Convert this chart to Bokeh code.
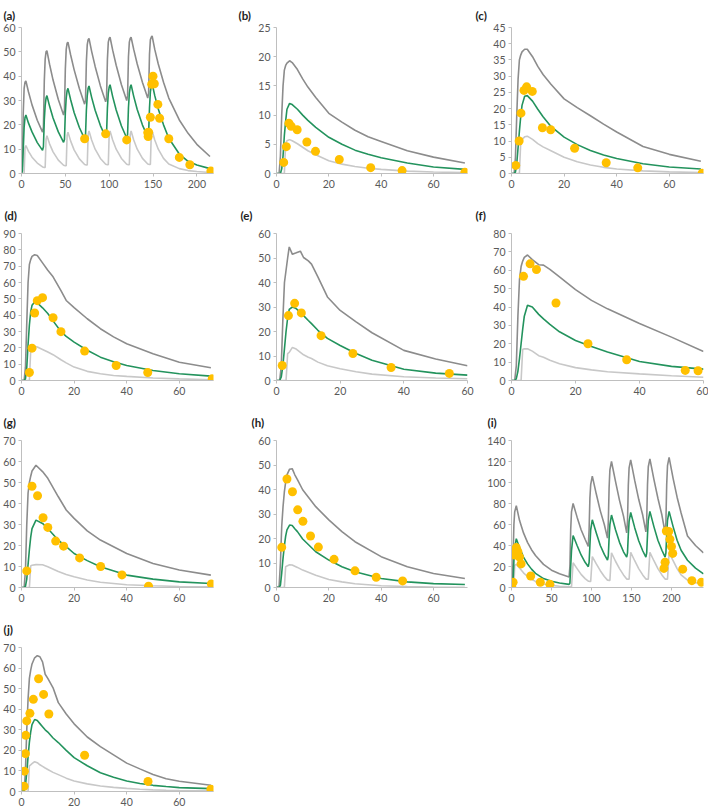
from bokeh.plotting import figure
from bokeh.layouts import column, row
from bokeh.models import Range1d, FixedTicker
from bokeh.embed import file_html
from bokeh.resources import INLINE

# ---------------- data ----------------
# (a)
t_a = [0, 1, 2, 3, 4, 5, 8, 12, 18,
       24, 25, 26, 27, 28, 29, 32, 36, 42,
       48, 49, 50, 51, 52, 53, 56, 60, 66,
       72, 73, 74, 75, 76, 77, 80, 84, 90,
       96, 97, 98, 99, 100, 101, 104, 108, 114,
       120, 121, 122, 123, 124, 125, 128, 132, 138,
       144, 145, 146, 147, 148, 149, 152, 156, 162,
       168, 180, 190, 200, 215]
up_a = [0, 3, 25, 35, 37.5, 38, 33.5, 28.2, 21.9,
        17, 19, 38, 47, 50, 50.5, 44.9, 38.4, 30.4,
        24, 26, 43, 51, 53.5, 54, 48.8, 42.7, 34.9,
        28.5, 30, 46, 53, 55, 55.5, 50.2, 44.0, 36.0,
        29.5, 31, 47, 54, 55.5, 56, 50.7, 44.5, 36.5,
        30, 32, 48, 54, 55.5, 56, 51.0, 45.0, 37.4,
        31, 33, 49, 55, 56, 56.5, 51.0, 45.0, 37.5,
        31, 22, 16.5, 12, 7]
med_a = [0, 1, 10, 19, 23, 24, 20.7, 17.1, 12.7,
         9.5, 11, 22, 28, 31, 32, 27.7, 22.8, 17.1,
         12.8, 14, 25, 31, 34, 35, 30.4, 25.1, 18.9,
         14.2, 15.5, 26, 32, 35, 36, 31.3, 26.0, 19.7,
         14.9, 16, 27, 33, 35.5, 36.5, 31.6, 26.1, 19.5,
         14.6, 16, 27, 33, 35.5, 36.5, 31.7, 26.3, 19.9,
         15, 16.5, 27, 33.5, 36, 37, 32, 26.5, 20,
         14.5, 8, 5, 3.5, 2]
lo_a = [0, 0, 0, 0, 10.5, 11.5, 9.1, 6.7, 4.3,
        2.7, 2.6, 2.5, 2.5, 14, 15.5, 12.2, 8.9, 5.5,
        3.4, 3.3, 3.2, 3.2, 15.5, 17, 13.4, 9.7, 6.0,
        3.7, 3.6, 3.5, 3.5, 16, 17.5, 13.8, 10.0, 6.2,
        3.8, 3.7, 3.6, 3.6, 16, 17.5, 13.8, 10.0, 6.2,
        3.8, 3.7, 3.6, 3.6, 16, 17.5, 13.8, 10.0, 6.2,
        3.9, 3.8, 3.7, 3.7, 16, 17.5, 13.8, 10.0, 6.2,
        3.9, 2, 1.2, 0.8, 0.4]
obs_t_a = [72, 96, 120, 144, 144.5, 145, 147, 148.5, 150, 151.5, 155.5, 157.5, 168, 180, 192, 216]
obs_c_a = [14.3, 16.3, 13.8, 16.8, 15.2, 17, 23.1, 36.7, 40, 36.9, 28.4, 22.7, 14.3, 6.6, 3.6, 1.0]

# (b)
t_b = [0, 1, 1.5, 2, 2.5, 3, 3.5, 4, 5, 6, 8, 10, 12, 15, 20, 25, 30, 35, 40, 50, 60, 72]
up_b = [0, 0, 3, 10, 15, 17.7, 18.5, 18.9, 19.3, 19.0, 17.8, 16.2, 14.8, 13.0, 10.3, 8.8, 7.4, 6.3, 5.5, 3.9, 2.8, 1.8]
med_b = [0, 0, 0, 0.8, 3, 6.5, 9, 11, 12, 11.8, 11, 10, 9.1, 7.9, 6.2, 5, 4, 3.3, 2.7, 1.8, 1.1, 0.7]
lo_b = [0, 0, 0, 0, 0, 0, 5.2, 5.6, 5.8, 5.6, 5.1, 4.5, 3.9, 3.2, 2.2, 1.6, 1.2, 0.9, 0.7, 0.4, 0.25, 0.15]
obs_t_b = [2.75, 3.75, 4.75, 5.6, 7.9, 11.6, 14.9, 24, 36, 48, 72]
obs_c_b = [1.9, 4.6, 8.6, 8.1, 7.5, 5.4, 3.8, 2.4, 1.0, 0.5, 0.2]

# (c)
t_c = [0, 1, 1.5, 2, 2.5, 3, 3.5, 4, 5, 6, 8, 10, 12, 15, 20, 25, 30, 35, 40, 50, 60, 72]
up_c = [0, 0, 5, 18, 29, 35, 36.5, 37.5, 38.3, 38.3, 36, 33, 30.5, 27.5, 23, 20.3, 17.8, 15.2, 12.8, 8.3, 5.9, 3.8]
med_c = [0, 0, 0.5, 3, 8, 13, 17.5, 21, 23.8, 24, 22.3, 19.8, 17.5, 14.5, 11.2, 8.9, 7.1, 5.7, 4.6, 3.0, 2.0, 1.4]
lo_c = [0, 0, 0, 0, 0, 0, 9.5, 10.5, 11.3, 11.5, 10.5, 9.2, 8.2, 7.0, 5.0, 3.6, 2.6, 1.9, 1.4, 0.8, 0.5, 0.3]
obs_t_c = [1.6, 2.9, 3.6, 4.75, 5.75, 7.9, 11.75, 14.9, 24, 36, 48, 72.5]
obs_c_c = [2.5, 10, 18.6, 25.6, 26.7, 25.3, 14.1, 13.5, 7.8, 3.3, 1.75, 0.1]

# (d)
t_d = [0, 1, 1.5, 2, 2.5, 3, 3.5, 4, 5, 6, 8, 10, 12, 15, 17, 20, 25, 30, 35, 40, 50, 60, 72]
up_d = [0, 0, 8, 35, 60, 71, 74, 76, 77, 76.5, 72, 67.5, 63.5, 55, 49, 44.6, 37.8, 31.7, 26.7, 22.5, 16.4, 11.2, 7.8]
med_d = [0, 0, 1, 8, 22, 34, 42, 46, 48, 47.5, 44.5, 41, 36.5, 30, 27, 23.5, 18.5, 14.3, 11.5, 9.2, 6.1, 4.1, 2.7]
lo_d = [0, 0, 0, 0, 0, 0, 18.5, 20, 20.8, 20.5, 19, 17.4, 15.8, 12.7, 10.8, 8.2, 5.6, 4.1, 3.1, 2.5, 1.5, 1.0, 0.5]
obs_t_d = [3, 4, 5, 6, 8, 12, 15, 24, 36, 48, 72.5]
obs_c_d = [4.9, 19.8, 41.3, 48.9, 50.7, 38.4, 29.9, 18, 9.2, 4.9, 1.0]

# (e)
t_e = [0, 1, 1.5, 2, 2.5, 3, 3.5, 4, 5, 6, 7.5, 8.5, 10, 11, 13, 16, 20, 25, 30, 40, 50, 60]
up_e = [0, 0, 6, 25, 40, 45, 50, 54.5, 51.5, 52, 52.8, 50.2, 48.8, 47.5, 42.3, 34.1, 28.6, 23.9, 19.5, 12.3, 8.8, 6]
med_e = [0, 0, 1.5, 6, 13, 20, 25.5, 29, 30, 29.5, 27.8, 26.5, 24.5, 23.2, 20.5, 17.2, 14.3, 11, 8.3, 4.6, 3.0, 2.2]
lo_e = [0, 0, 0, 0, 0, 0, 11, 11.5, 13.5, 13, 11.5, 10.5, 9.5, 9, 7.5, 6, 4.8, 3.6, 2.6, 1.5, 1.0, 0.7]
obs_t_e = [1.8, 3.75, 5.7, 7.8, 14, 24, 36, 54.3]
obs_c_e = [6.1, 26.5, 31.5, 27.6, 18.3, 11, 5.3, 2.9]

# (f)
t_f = [0, 1, 1.5, 2, 2.5, 3, 3.5, 4, 5, 6.5, 8.5, 10, 12, 15, 20, 25, 30, 40, 50, 60]
up_f = [0, 0, 8, 35, 55, 62, 65, 67, 68.3, 65.8, 63, 62.8, 60.5, 56.4, 49.5, 43.6, 39, 31, 23.6, 15.8]
med_f = [0, 0, 1, 5, 12, 20, 28, 35, 41, 40, 36, 33.5, 30.5, 26.5, 21.8, 18.5, 15.5, 10.3, 7.7, 6.2]
lo_f = [0, 0, 0, 0, 0, 0, 17, 17.2, 17.3, 16, 13.5, 12.7, 11, 9.1, 7, 5.8, 4.8, 3.6, 2.6, 1.8]
obs_t_f = [3.75, 5.8, 7.8, 13.9, 23.9, 36, 54.3, 58.3]
obs_c_f = [56.7, 63.5, 60.4, 42.2, 20, 11.3, 5.5, 5.3]

# (g)
t_g = [0, 1, 1.5, 2, 2.5, 3, 3.5, 4, 5.5, 8, 10, 14, 17, 20, 25, 30, 40, 50, 60, 72]
up_g = [0, 0, 8, 30, 45, 50, 53, 55.5, 58.2, 55.2, 52, 43.2, 36.9, 32.9, 27, 22.6, 16.2, 11.4, 8.3, 5.9]
med_g = [0, 0, 0.5, 4, 11, 18, 24, 28, 32.1, 30.5, 28.1, 22.5, 19.5, 16.2, 12.8, 9.9, 5.9, 4, 2.7, 1.9]
lo_g = [0, 0, 0, 0, 0, 0, 10.3, 10.6, 10.9, 10.8, 9.9, 7.6, 6.2, 5.1, 3.6, 2.5, 1.3, 0.8, 0.5, 0.3]
obs_t_g = [2, 4, 6.1, 8.2, 10, 13, 16, 22.1, 30.1, 38.2, 48.3, 72.2]
obs_c_g = [7.9, 48.2, 43.7, 33.2, 28.6, 22.1, 19.7, 14.1, 10, 6, 0.6, 1.7]

# (h)
t_h = [0, 1, 1.5, 2, 2.5, 3, 3.5, 4, 5, 6, 7, 8, 10, 15, 20, 25, 30, 40, 50, 60, 72]
up_h = [0, 0.5, 10, 25, 33, 39, 43, 46, 48.3, 48.5, 46, 44, 39.9, 33, 27.6, 22.8, 18.7, 12.6, 8.5, 5.7, 3.7]
med_h = [0, 0, 1, 6, 12, 17, 21, 23.5, 25.5, 25.3, 24, 22.8, 19.8, 14.6, 11.2, 8.5, 6.4, 3.7, 2.3, 1.6, 1.2]
lo_h = [0, 0, 0, 0, 0, 0, 8.5, 8.8, 9.3, 9.2, 8.7, 8.2, 7.1, 5, 3.3, 2.3, 1.5, 0.7, 0.4, 0.2, 0.1]
obs_t_h = [2, 4, 6.1, 8.1, 10.1, 13, 16, 22, 30, 38.1, 48.2]
obs_c_h = [16.4, 44.3, 39.1, 31.7, 27, 21, 16.5, 11.5, 6.8, 4.2, 2.7]

# (i)
t_i = [0, 1, 2, 3, 4, 6, 10, 15, 20, 25, 30, 40, 50, 60, 72,
       73, 74, 75, 77, 82, 87, 92, 96,
       97, 98, 99, 101, 106, 111, 116, 120,
       121, 122, 123, 125, 130, 135, 140, 144,
       145, 146, 147, 149, 154, 159, 164, 168,
       169, 170, 171, 173, 178, 183, 188, 192,
       193, 194, 195, 197, 202, 207, 212, 220, 230, 240]
up_i = [0, 2, 30, 60, 72, 78, 64, 52, 43, 36, 30.5, 22, 16.5, 13, 10,
        20, 55, 72, 80, 67, 55, 46, 39,
        55, 85, 98, 106, 89, 73, 60, 47,
        62, 95, 112, 120, 101, 83, 68, 52,
        63, 97, 114, 121.5, 102, 84, 69, 53,
        63, 98, 115, 122.5, 103, 85, 69, 52,
        62, 98, 116, 124, 104, 86, 71, 49, 40, 33]
med_i = [0, 0, 8, 25, 38, 46.5, 38, 29, 22.5, 17.5, 13.5, 8.5, 6, 4.3, 3,
         4, 20, 35, 49.5, 40, 31, 24, 19.8,
         24, 40, 55, 64.5, 52, 40, 31.5, 26,
         30, 47, 60, 69, 55, 43, 34, 29,
         33, 50, 63, 71.5, 57, 44.5, 35, 29,
         33, 50, 64, 72.5, 58, 45, 35.5, 29,
         33, 50, 64, 72.5, 58, 45, 35.5, 26, 18.5, 13]
lo_i = [0, 0, 0, 0, 21, 22, 18.5, 14, 10.5, 7.8, 5.8, 3.3, 2, 1.2, 0.6,
        0.6, 0.6, 0.6, 23.5, 18, 12.5, 8.5, 6,
        6, 5.8, 5.8, 29.5, 22.5, 16, 10.5, 7,
        7, 6.8, 6.8, 33, 25, 18, 12, 8,
        8, 7.8, 7.8, 33.5, 25.5, 18, 12, 8,
        8, 7.8, 7.8, 33.5, 25.5, 18, 12, 8,
        8, 7.8, 7.8, 33.5, 25.5, 18, 12, 7, 4.5, 3.5]
obs_t_i = [0.5, 2, 4, 5, 6, 8, 10, 12, 24, 36, 48,
           190.5, 192, 193.5, 196.5, 198, 200, 201.5, 214, 225.5, 237.5]
obs_c_i = [0, 5, 31, 36, 38, 34, 29, 22.5, 11, 5, 3,
           18.2, 24, 53.8, 53.3, 46, 39, 32.5, 17.5, 6.5, 5]

# (j)
t_j = [0, 1, 1.5, 2, 2.5, 3, 3.5, 4, 5, 6, 7, 8, 9, 10, 12, 14, 17, 20, 25, 30, 35, 40, 45, 50, 55, 60, 72]
up_j = [0, 0, 10, 30, 45, 55, 59, 62, 65, 66, 65.5, 63, 57, 55, 50.4, 43.2, 37.7, 32.9, 26.5, 21.8, 17.8, 13.8, 11, 8.3, 6.2, 5, 3]
med_j = [0, 0.5, 3, 9, 17, 24, 29, 32.5, 35, 34.5, 33, 31.5, 30, 28.9, 26, 23.8, 20, 16.5, 12.5, 9.1, 6.9, 5.1, 3.9, 3, 2.4, 1.9, 1.4]
lo_j = [0, 0, 0, 0, 0, 12.5, 13, 13.5, 14.5, 14, 13, 12.2, 11.4, 10.7, 9.3, 8.2, 6.5, 5.1, 3.7, 2.7, 2, 1.5, 1.1, 0.8, 0.6, 0.5, 0.3]
obs_t_j = [1, 1.1, 1.5, 1.6, 2, 3.2, 4.5, 6.5, 8.4, 10.4, 24, 48.1, 72]
obs_c_j = [2.5, 9.9, 18.4, 27.3, 34.3, 38, 44.8, 54.8, 47.2, 37.7, 17.6, 4.9, 1.1]

# axis ticks / labels
ticks_x_a = [0, 50, 100, 150, 200]
ticks_x_72 = [0, 20, 40, 60]
ticks_y_a = [0, 10, 20, 30, 40, 50, 60]
ticks_y_b = [0, 5, 10, 15, 20, 25]
ticks_y_c = [0, 5, 10, 15, 20, 25, 30, 35, 40, 45]
ticks_y_d = [0, 10, 20, 30, 40, 50, 60, 70, 80, 90]
ticks_y_e = [0, 10, 20, 30, 40, 50, 60]
ticks_y_f = [0, 10, 20, 30, 40, 50, 60, 70, 80]
ticks_y_g = [0, 10, 20, 30, 40, 50, 60, 70]
ticks_y_h = [0, 10, 20, 30, 40, 50, 60]
ticks_y_i = [0, 20, 40, 60, 80, 100, 120, 140]
ticks_y_j = [0, 10, 20, 30, 40, 50, 60, 70]

# ---------------- styling ----------------
UP_COLOR = "#8c8c8c"
MED_COLOR = "#23935d"
LO_COLOR = "#c8c8c8"
OBS_COLOR = "#ffc000"
AXIS_COLOR = "#bfbfbf"
LABEL_COLOR = "#595959"
FONT = "Lato"


def panel(label, t, up, med, lo, ot, oc, xmax, ymax, xt, yt, col, rw, toff):
    w, l, r = col
    h, top, bot, stand = rw
    p = figure(width=w, height=h, x_range=Range1d(0, xmax), y_range=Range1d(0, ymax),
               output_backend="svg", toolbar_location=None, title=label,
               min_border_left=l, min_border_right=r,
               min_border_top=top, min_border_bottom=bot)
    p.title.align = "left"
    p.title.vertical_align = "middle"
    p.title.offset = toff
    p.title.standoff = stand
    p.title.text_font = FONT
    p.title.text_font_size = "11.5px"
    p.title.text_font_style = "bold"
    p.title.text_color = "#222222"
    p.line(t, up, line_color=UP_COLOR, line_width=1.6)
    p.line(t, lo, line_color=LO_COLOR, line_width=1.6)
    p.line(t, med, line_color=MED_COLOR, line_width=1.6)
    p.scatter(ot, oc, size=9, fill_color=OBS_COLOR, line_color=None)
    for ax, ticks in ((p.xaxis[0], xt), (p.yaxis[0], yt)):
        ax.ticker = FixedTicker(ticks=ticks)
        ax.axis_line_color = AXIS_COLOR
        ax.axis_line_width = 1
        ax.major_tick_line_color = AXIS_COLOR
        ax.major_tick_out = 3
        ax.major_tick_in = 0
        ax.minor_tick_line_color = None
        ax.major_label_text_font = FONT
        ax.major_label_text_font_size = "10.5px"
        ax.major_label_text_color = LABEL_COLOR
        ax.major_label_standoff = 3
    p.xgrid.visible = False
    p.ygrid.visible = False
    p.outline_line_color = None
    return p


# column geometry: (width, left border, right border)
C1 = (236, 20, 23)
C2 = (238, 40, 7)
C3 = (234, 37, 5)
# row geometry: (height, top border, bottom border, title standoff)
R1 = (192, 27, 19, 9)
R2 = (207, 41, 19, 22)
R3 = (207, 41, 19, 22)
R4 = (203, 41, 18, 22)

pa = panel("(a)", t_a, up_a, med_a, lo_a, obs_t_a, obs_c_a, 219, 60, ticks_x_a, ticks_y_a, C1, R1, -18)
pb = panel("(b)", t_b, up_b, med_b, lo_b, obs_t_b, obs_c_b, 73, 25, ticks_x_72, ticks_y_b, C2, R1, -38)
pc = panel("(c)", t_c, up_c, med_c, lo_c, obs_t_c, obs_c_c, 73, 45, ticks_x_72, ticks_y_c, C3, R1, -36)
pd = panel("(d)", t_d, up_d, med_d, lo_d, obs_t_d, obs_c_d, 73, 90, ticks_x_72, ticks_y_d, C1, R2, -17)
pe = panel("(e)", t_e, up_e, med_e, lo_e, obs_t_e, obs_c_e, 60, 60, ticks_x_72, ticks_y_e, C2, R2, -36)
pf = panel("(f)", t_f, up_f, med_f, lo_f, obs_t_f, obs_c_f, 60, 80, ticks_x_72, ticks_y_f, C3, R2, -36)
pg = panel("(g)", t_g, up_g, med_g, lo_g, obs_t_g, obs_c_g, 73, 70, ticks_x_72, ticks_y_g, C1, R3, -18)
ph = panel("(h)", t_h, up_h, med_h, lo_h, obs_t_h, obs_c_h, 73, 60, ticks_x_72, ticks_y_h, C2, R3, -25)
pi = panel("(i)", t_i, up_i, med_i, lo_i, obs_t_i, obs_c_i, 240, 140, ticks_x_a, ticks_y_i, C3, R3, -24)
pj = panel("(j)", t_j, up_j, med_j, lo_j, obs_t_j, obs_c_j, 73, 70, ticks_x_72, ticks_y_j, C1, R4, -18)

layout = column(row(pa, pb, pc), row(pd, pe, pf), row(pg, ph, pi), row(pj))

open("out.html", "w").write(file_html(layout, INLINE))
